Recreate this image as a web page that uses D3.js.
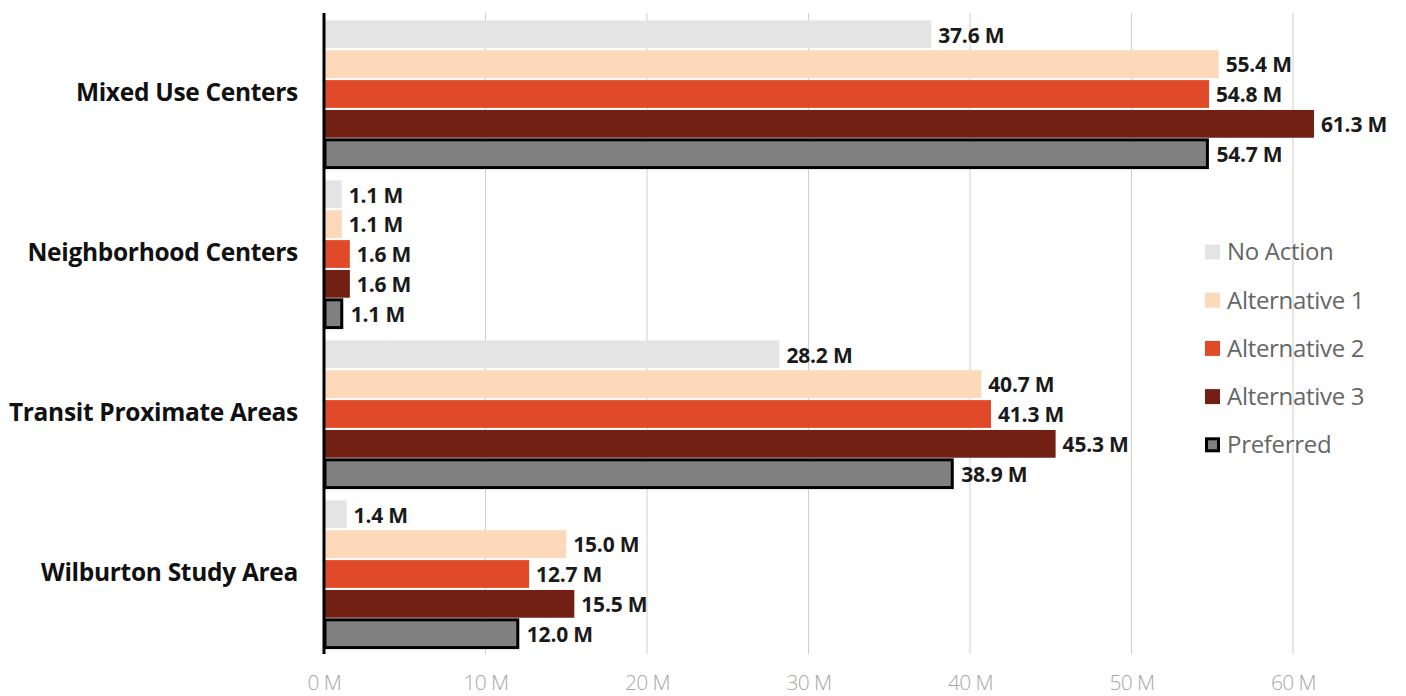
<!DOCTYPE html>
<html>
<head>
<meta charset="utf-8">
<script src="https://cdnjs.cloudflare.com/ajax/libs/d3/7.8.5/d3.min.js"></script>
<style>
  body { margin: 0; background: #fff; }
  svg { font-family: "Open Sans", sans-serif; }
</style>
</head>
<body>
<script>
var width = 1406;
var height = 696;

var categories = ["Mixed Use Centers", "Neighborhood Centers", "Transit Proximate Areas", "Wilburton Study Area"];
var seriesNames = ["No Action", "Alternative 1", "Alternative 2", "Alternative 3", "Preferred"];
var seriesColors = ["#e4e4e4", "#fbd9b9", "#e04a28", "#722013", "#808080"];

var noAction = [37.6, 1.1, 28.2, 1.4];
var alternative1 = [55.4, 1.1, 40.7, 15.0];
var alternative2 = [54.8, 1.6, 41.3, 12.7];
var alternative3 = [61.3, 1.6, 45.3, 15.5];
var preferred = [54.7, 1.1, 38.9, 12.0];

var tickValues = [0, 10, 20, 30, 40, 50, 60];

var seriesValues = [noAction, alternative1, alternative2, alternative3, preferred];

var rows = [];
categories.forEach(function (c, ci) {
  seriesNames.forEach(function (s, si) {
    rows.push({ cat: c, series: s, si: si, value: seriesValues[si][ci] });
  });
});

var svg = d3.select("body")
  .append("svg")
  .attr("width", width)
  .attr("height", height);

var x = d3.scaleLinear().domain([0, 60]).range([324, 1293]);

var y0 = d3.scaleBand()
  .domain(categories)
  .range([14, 654])
  .paddingInner(0.08)
  .paddingOuter(0.04);

var y1 = d3.scaleBand()
  .domain(seriesNames)
  .range([0, y0.bandwidth()])
  .paddingInner(0.07);

// gridlines
svg.append("g")
  .selectAll("line")
  .data(tickValues.slice(1))
  .enter()
  .append("line")
  .attr("x1", function (d) { return x(d); })
  .attr("x2", function (d) { return x(d); })
  .attr("y1", 13)
  .attr("y2", 654)
  .attr("stroke", "#cfcfcf")
  .attr("stroke-width", 1);

// x axis tick labels
var xAxis = d3.axisBottom(x)
  .tickValues(tickValues)
  .tickSize(0)
  .tickPadding(0)
  .tickFormat(function (d) { return d + " M"; });

var gx = svg.append("g")
  .attr("transform", "translate(0,675)")
  .call(xAxis);
gx.select(".domain").remove();
gx.selectAll("text")
  .attr("font-family", "Open Sans")
  .attr("font-size", 21)
  .attr("font-weight", 300)
  .attr("letter-spacing", -0.6)
  .attr("fill", "#a8a8a8");

// bars
var groups = svg.append("g")
  .selectAll("g")
  .data(categories)
  .enter()
  .append("g")
  .attr("transform", function (d) { return "translate(0," + y0(d) + ")"; });

groups.selectAll("rect")
  .data(function (c) { return rows.filter(function (r) { return r.cat === c; }); })
  .enter()
  .append("rect")
  .attr("x", x(0) + 1)
  .attr("y", function (d) { return y1(d.series); })
  .attr("width", function (d) { return x(d.value) - x(0) - 1; })
  .attr("height", y1.bandwidth())
  .attr("fill", function (d) { return seriesColors[d.si]; })
  .attr("stroke", function (d) { return d.series === "Preferred" ? "#000" : "none"; })
  .attr("stroke-width", 3);

groups.selectAll("text")
  .data(function (c) { return rows.filter(function (r) { return r.cat === c; }); })
  .enter()
  .append("text")
  .attr("x", function (d) { return x(d.value) + (d.series === "Preferred" ? 9 : 7); })
  .attr("y", function (d) { return y1(d.series) + y1.bandwidth() / 2 + 1; })
  .attr("dy", "0.35em")
  .attr("font-size", 21)
  .attr("font-weight", 700)
  .attr("letter-spacing", -0.2)
  .attr("fill", "#1a1a1a")
  .text(function (d) { return d.value.toFixed(1) + " M"; });

// category labels
svg.append("g")
  .selectAll("text")
  .data(categories)
  .enter()
  .append("text")
  .attr("x", 298)
  .attr("y", function (d) { return y0(d) + y0.bandwidth() / 2 - 2; })
  .attr("dy", "0.35em")
  .attr("text-anchor", "end")
  .attr("font-size", 24.5)
  .attr("font-weight", 700)
  .attr("letter-spacing", -0.3)
  .attr("fill", "#111")
  .text(function (d) { return d; });

// y axis line
svg.append("line")
  .attr("x1", x(0))
  .attr("x2", x(0))
  .attr("y1", 13)
  .attr("y2", 654)
  .attr("stroke", "#000")
  .attr("stroke-width", 3);

// legend
var legend = svg.append("g")
  .attr("transform", "translate(1205,252)");

var items = legend.selectAll("g")
  .data(seriesNames)
  .enter()
  .append("g")
  .attr("transform", function (d, i) { return "translate(0," + (i * 48.2) + ")"; });

items.append("rect")
  .attr("x", function (d) { return d === "Preferred" ? 1.5 : 0; })
  .attr("y", function (d) { return d === "Preferred" ? -6 : -7.5; })
  .attr("width", function (d) { return d === "Preferred" ? 12 : 15; })
  .attr("height", function (d) { return d === "Preferred" ? 12 : 15; })
  .attr("fill", function (d, i) { return seriesColors[i]; })
  .attr("stroke", function (d) { return d === "Preferred" ? "#000" : "none"; })
  .attr("stroke-width", 3);

items.append("text")
  .attr("x", 22)
  .attr("y", 0)
  .attr("dy", "0.35em")
  .attr("font-size", 24)
  .attr("letter-spacing", -0.3)
  .attr("fill", "#666")
  .text(function (d) { return d; });
</script>
</body>
</html>
